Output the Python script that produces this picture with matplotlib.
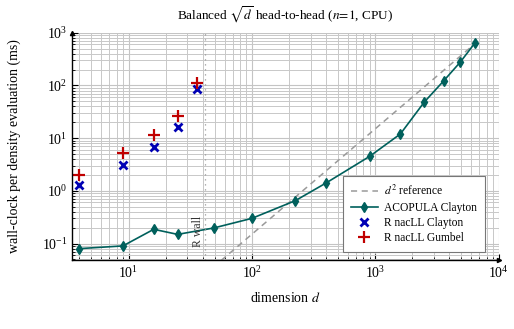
import numpy as np
import matplotlib
matplotlib.use("Agg")
import matplotlib.pyplot as plt

plt.rcParams['font.family'] = ['Liberation Serif', 'DejaVu Serif']
plt.rcParams['mathtext.fontset'] = 'stix'
plt.rcParams['axes.formatter.use_mathtext'] = True

# ACOPULA Clayton timings (ms)
d_acop = [4, 9, 16, 25, 49, 100, 225, 400, 900, 1600, 2500, 3600, 4900, 6400]
t_acop = [0.080, 0.090, 0.186, 0.149, 0.197, 0.30, 0.65, 1.41, 4.5, 12.0, 48.4, 123, 278, 630]

# R nacLL timings (ms)
d_r = [4, 9, 16, 25, 36]
t_r_clayton = [1.27, 3.13, 6.87, 16.3, 84]
t_r_gumbel = [2.02, 5.15, 11.6, 26.6, 110]

# d^2 reference
ref_coef = 1.5e-5
d_ref = np.array([4, 6400])
r_wall = 42

teal = '#00605c'
fig = plt.figure(figsize=(5.14, 3.29), dpi=100)
ax = fig.add_axes([0.1407, 0.2088, 0.8293, 0.6918])

ax.plot(d_ref, ref_coef * d_ref**2, '--', color='#9a9a9a', lw=1.1,
        dashes=(4, 3), label=r'$d^2$ reference')
ax.plot(d_acop, t_acop, '-', color=teal, lw=1.2, marker='d', ms=5,
        label='ACOPULA Clayton')
ax.plot(d_r, t_r_clayton, 'x', color='#0000b4', ms=5.5, mew=2,
        label='R nacLL Clayton')
ax.plot(d_r, t_r_gumbel, '+', color='#c00000', ms=8, mew=1.6,
        label='R nacLL Gumbel')

ax.axvline(r_wall, color='#9a9a9a', lw=0.9, ls=(0, (1, 3)))
ax.text(r_wall * 0.965, 0.085, 'R wall', rotation=90, ha='right', va='bottom',
        fontsize=8.5, color='#333333')

ax.set_xscale('log')
ax.set_yscale('log')
ax.set_xlim(3.5, 1e4)
ax.set_ylim(0.048, 1e3)

ax.grid(True, which='major', color='#c4c4c4', lw=0.8)
ax.grid(True, which='minor', color='#c8c8c8', lw=0.7)
ax.set_axisbelow(True)

for s in ['top', 'right']:
    ax.spines[s].set_visible(False)
for s in ['left', 'bottom']:
    ax.spines[s].set_linewidth(1.0)
ax.plot(1, 0, '>k', ms=3, transform=ax.transAxes, clip_on=False)
ax.plot(0, 1, '^k', ms=3, transform=ax.transAxes, clip_on=False)

ax.tick_params(which='both', direction='in', top=False, right=False,
               labelsize=10)
ax.tick_params(which='major', length=4, width=0.8)
ax.tick_params(which='minor', length=2.5, width=0.6)

ax.set_title(r'Balanced $\sqrt{d}$ head-to-head ($n\!=\!1$, CPU)',
             fontsize=9.5, pad=9.5)
ax.set_xlabel(r'dimension $d$', fontsize=10, labelpad=7)
ax.set_ylabel('wall-clock per density evaluation (ms)', fontsize=10,
              labelpad=15)

leg = ax.legend(loc='lower right', fontsize=8.3, frameon=True, fancybox=False,
                edgecolor='#777777', framealpha=1, borderpad=0.7,
                handlelength=2.3, labelspacing=0.28, handletextpad=0.55,
                borderaxespad=0, bbox_to_anchor=(0.968, 0.036))
leg.get_frame().set_linewidth(0.8)

fig.savefig('out.png', dpi=100)
